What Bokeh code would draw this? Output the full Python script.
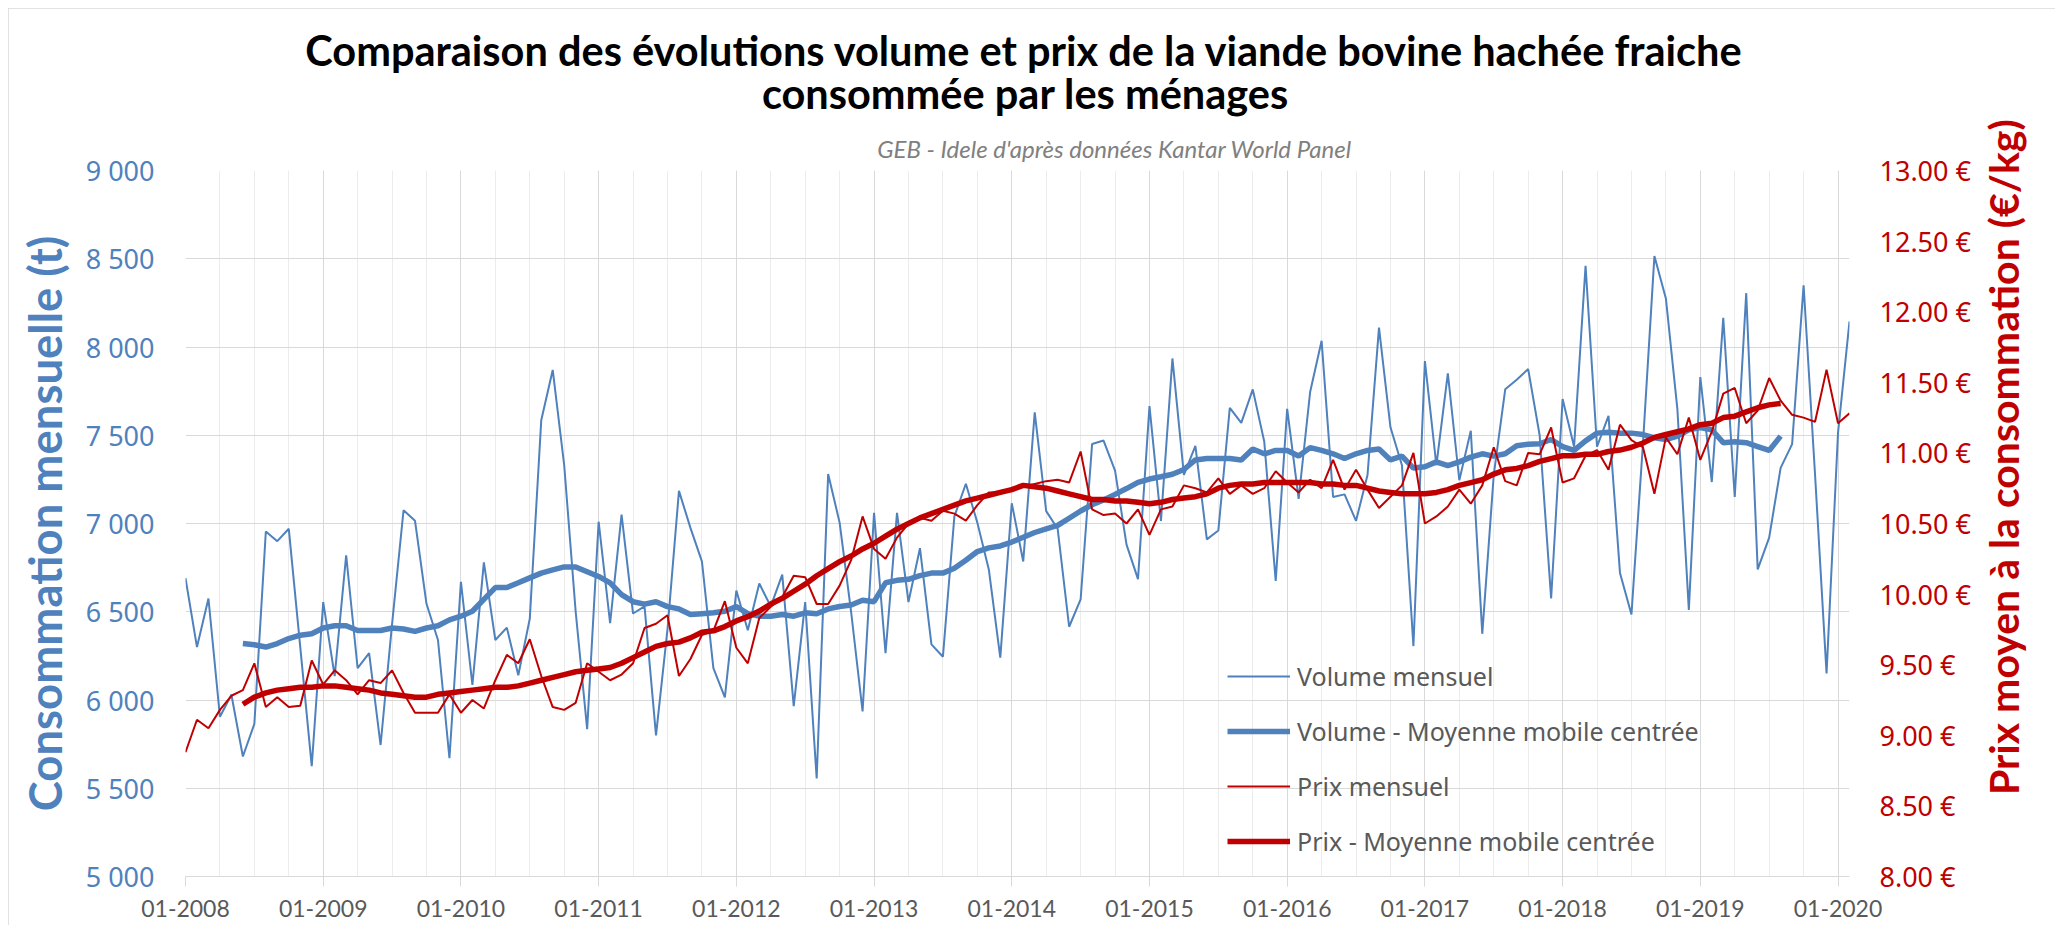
import math
from bokeh.plotting import figure
from bokeh.models import Range1d, LinearAxis, FixedTicker, Legend, LegendItem
from bokeh.embed import file_html
from bokeh.resources import INLINE

# ---------------- data (monthly, Jan 2008 -> Feb 2020) ----------------
volume_mensuel = [
    6690, 6300, 6575, 5905, 6030, 5680, 5865, 6955, 6900, 6970, 6300, 5625,
    6555, 6135, 6820, 6180, 6265, 5745, 6430, 7075, 7015, 6545, 6340, 5670,
    6670, 6085, 6780, 6340, 6410, 6140, 6460, 7585, 7870, 7330, 6500, 5835,
    7010, 6435, 7050, 6490, 6530, 5800, 6400, 7185, 6975, 6785, 6180, 6015,
    6620, 6395, 6660, 6530, 6710, 5965, 6555, 5555, 7280, 7005, 6500, 5935,
    7060, 6265, 7060, 6555, 6860, 6315, 6245, 7040, 7225, 7005, 6740, 6240,
    7115, 6785, 7630, 7070, 6970, 6415, 6570, 7450, 7470, 7300, 6880, 6685,
    7665, 7015, 7935, 7275, 7440, 6910, 6960, 7655, 7570, 7760, 7465, 6675,
    7650, 7140, 7745, 8035, 7150, 7165, 7015, 7275, 8110, 7545, 7330, 6305,
    7920, 7330, 7850, 7245, 7525, 6375, 7275, 7760, 7815, 7875, 7500, 6575,
    7705, 7435, 8460, 7435, 7610, 6720, 6485, 7450, 8515, 8275, 7650, 6510,
    7830, 7235, 8165, 7150, 8305, 6740, 6920, 7315, 7450, 8350, 7275, 6150,
    7515, 8145,
]

# centred moving averages, available from month index 5 to 139
mm_debut = 5
volume_moyenne_mobile = [
    6320, 6313, 6300, 6320, 6348, 6367, 6375,
    6408, 6421, 6421, 6394, 6394, 6394, 6408, 6402, 6389, 6408, 6421, 6454,
    6475, 6503, 6570, 6637, 6637, 6664, 6692, 6719, 6737, 6754, 6754, 6727,
    6700, 6664, 6597, 6557, 6543, 6557, 6529, 6516, 6484, 6489, 6494, 6503,
    6530, 6489, 6475, 6475, 6484, 6475, 6494, 6489, 6516, 6530, 6538, 6565,
    6557, 6664, 6678, 6684, 6705, 6719, 6719, 6746, 6792, 6841, 6862, 6873,
    6895, 6922, 6949, 6970, 6989, 7030, 7071, 7106, 7133, 7165, 7198, 7233,
    7252, 7265, 7279, 7306, 7360, 7368, 7368, 7368, 7360, 7422, 7395, 7414,
    7414, 7382, 7430, 7414, 7395, 7368, 7395, 7414, 7422, 7360, 7382, 7314,
    7322, 7349, 7328, 7349, 7376, 7395, 7382, 7395, 7441, 7449, 7452, 7476,
    7436, 7414, 7468, 7512, 7517, 7512, 7512, 7504, 7485, 7476, 7495, 7531,
    7544, 7531, 7458, 7463, 7458, 7436, 7414, 7495,
]

prix_mensuel = [
    8.88, 9.11, 9.05, 9.18, 9.28, 9.32, 9.51, 9.20, 9.27, 9.20, 9.21, 9.53,
    9.36, 9.46, 9.39, 9.29, 9.39, 9.37, 9.46, 9.30, 9.16, 9.16, 9.16, 9.29,
    9.16, 9.25, 9.19, 9.39, 9.57, 9.51, 9.68, 9.42, 9.20, 9.18, 9.23, 9.51,
    9.45, 9.39, 9.43, 9.51, 9.76, 9.79, 9.85, 9.42, 9.54, 9.71, 9.74, 9.95,
    9.62, 9.51, 9.83, 9.91, 9.98, 10.13, 10.12, 9.93, 9.93, 10.06, 10.24, 10.55,
    10.32, 10.25, 10.40, 10.50, 10.54, 10.52, 10.59, 10.57, 10.52, 10.63, 10.72, 10.72,
    10.75, 10.76, 10.78, 10.80, 10.81, 10.79, 11.01, 10.60, 10.56, 10.57, 10.50, 10.60,
    10.42, 10.60, 10.62, 10.77, 10.75, 10.72, 10.82, 10.71, 10.77, 10.71, 10.75, 10.87,
    10.79, 10.72, 10.81, 10.75, 10.95, 10.74, 10.88, 10.74, 10.61, 10.69, 10.77, 11.00,
    10.50, 10.55, 10.62, 10.74, 10.64, 10.77, 11.04, 10.80, 10.77, 11.00, 10.99, 11.18,
    10.79, 10.82, 10.98, 11.02, 10.88, 11.20, 11.09, 11.04, 10.71, 11.11, 10.99, 11.25,
    10.95, 11.15, 11.42, 11.46, 11.21, 11.30, 11.53, 11.37, 11.27, 11.25, 11.22, 11.59,
    11.21, 11.28,
]

prix_moyenne_mobile = [
    9.22, 9.27, 9.30, 9.32, 9.33, 9.34, 9.34,
    9.35, 9.35, 9.34, 9.33, 9.32, 9.30, 9.29, 9.28, 9.27, 9.27, 9.29, 9.30,
    9.31, 9.32, 9.33, 9.34, 9.34, 9.35, 9.37, 9.39, 9.41, 9.43, 9.45, 9.46,
    9.47, 9.48, 9.51, 9.55, 9.59, 9.63, 9.65, 9.66, 9.69, 9.73, 9.74, 9.77,
    9.81, 9.84, 9.88, 9.93, 9.97, 10.02, 10.07, 10.13, 10.18, 10.23, 10.27, 10.32,
    10.36, 10.41, 10.46, 10.50, 10.54, 10.57, 10.60, 10.63, 10.66, 10.68, 10.70, 10.72,
    10.74, 10.77, 10.76, 10.75, 10.73, 10.71, 10.69, 10.67, 10.67, 10.66, 10.66, 10.65,
    10.64, 10.65, 10.67, 10.68, 10.69, 10.71, 10.75, 10.77, 10.78, 10.78, 10.79, 10.79,
    10.79, 10.79, 10.79, 10.78, 10.78, 10.77, 10.77, 10.75, 10.73, 10.72, 10.71, 10.71,
    10.71, 10.72, 10.74, 10.77, 10.79, 10.81, 10.85, 10.88, 10.89, 10.91, 10.94, 10.96,
    10.98, 10.98, 10.99, 10.99, 11.01, 11.02, 11.04, 11.07, 11.11, 11.13, 11.15, 11.17,
    11.20, 11.21, 11.25, 11.26, 11.29, 11.32, 11.34, 11.35,
]

x_tick_labels = ["01-2008", "01-2009", "01-2010", "01-2011", "01-2012", "01-2013",
                 "01-2014", "01-2015", "01-2016", "01-2017", "01-2018", "01-2019", "01-2020"]
volume_ticks = [5000, 5500, 6000, 6500, 7000, 7500, 8000, 8500, 9000]
volume_tick_labels = ["5 000", "5 500", "6 000", "6 500", "7 000", "7 500", "8 000", "8 500", "9 000"]
prix_ticks = [8.0, 8.5, 9.0, 9.5, 10.0, 10.5, 11.0, 11.5, 12.0, 12.5, 13.0]
prix_tick_labels = ["8.00 €", "8.50 €", "9.00 €", "9.50 €", "10.00 €", "10.50 €",
                    "11.00 €", "11.50 €", "12.00 €", "12.50 €", "13.00 €"]

titre_1 = "Comparaison des évolutions volume et prix de la viande bovine hachée fraiche"
titre_2 = "consommée par les ménages"
sous_titre = "GEB - Idele d'après données Kantar World Panel"
titre_gauche = "Consommation mensuelle (t)"
titre_droite = "Prix moyen à la consommation (€/kg)"

# ---------------- derived x positions ----------------
mois = list(range(len(volume_mensuel)))
mois_mm = list(range(mm_debut, mm_debut + len(volume_moyenne_mobile)))
n_mois = len(volume_mensuel) - 1
year_ticks = list(range(0, 12 * len(x_tick_labels), 12))
quarter_ticks = list(range(0, n_mois + 1, 3))

BLUE = "#4F81BD"
RED = "#C00000"
GREY_TXT = "#595959"

W, H = 2047, 917
ML, MR, MT, MB = 177, 206, 162, 49
FW, FH = W - ML - MR, H - MT - MB

p = figure(width=W, height=H, output_backend="svg", toolbar_location=None, title=None,
           x_range=Range1d(0, n_mois), y_range=Range1d(5000, 9000),
           min_border_left=ML, min_border_right=MR, min_border_top=MT, min_border_bottom=MB,
           background_fill_color="white", border_fill_color="white",
           styles={"margin-left": "8px", "margin-top": "8px",
                   "box-shadow": "inset 1px 1px 0 #d9d9d9, inset 0 -1px 0 #d9d9d9"})
p.outline_line_color = None
p.extra_y_ranges = {"prix": Range1d(8, 13)}

# grids
p.xgrid.ticker = FixedTicker(ticks=year_ticks, minor_ticks=quarter_ticks)
p.xgrid.grid_line_color = "#d9d9d9"
p.xgrid.minor_grid_line_color = "#ececec"
p.ygrid.ticker = FixedTicker(ticks=volume_ticks)
p.ygrid.grid_line_color = "#d9d9d9"

# x axis
xa = p.xaxis[0]
xa.ticker = FixedTicker(ticks=year_ticks, minor_ticks=quarter_ticks)
xa.major_label_overrides = {t: l for t, l in zip(year_ticks, x_tick_labels)}
xa.axis_line_color = "#d9d9d9"
xa.major_tick_line_color = "#d9d9d9"
xa.major_tick_out = 10
xa.major_tick_in = 0
xa.minor_tick_line_color = None
xa.major_label_text_font = "Lato"
xa.major_label_text_font_size = "23px"
xa.major_label_text_color = GREY_TXT
xa.major_label_standoff = 13

# left axis
ya = p.yaxis[0]
ya.ticker = FixedTicker(ticks=volume_ticks)
ya.major_label_overrides = {t: l for t, l in zip(volume_ticks, volume_tick_labels)}
ya.axis_line_color = None
ya.major_tick_line_color = None
ya.minor_tick_line_color = None
ya.major_label_text_font = "Noto Sans"
ya.major_label_text_font_size = "27px"
ya.major_label_text_color = BLUE
ya.major_label_standoff = 25
ya.axis_label = titre_gauche
ya.axis_label_text_font = "Lato"
ya.axis_label_text_font_style = "bold"
ya.axis_label_text_font_size = "45.5px"
ya.axis_label_text_color = BLUE
ya.axis_label_standoff = 11

# right axis
ra = LinearAxis(y_range_name="prix", ticker=FixedTicker(ticks=prix_ticks))
ra.major_label_overrides = {t: l for t, l in zip(prix_ticks, prix_tick_labels)}
ra.axis_line_color = None
ra.major_tick_line_color = None
ra.minor_tick_line_color = None
ra.major_label_text_font = "Noto Sans"
ra.major_label_text_font_size = "27px"
ra.major_label_text_color = RED
ra.major_label_standoff = 24
p.add_layout(ra, "right")


# text-only axes used to place titles outside the plot frame
def text_axis(side, tick, text, size, color, style, standoff, y_range_name=None, orientation=None):
    kw = {"y_range_name": y_range_name} if y_range_name else {}
    ax = LinearAxis(ticker=FixedTicker(ticks=[tick]), **kw)
    ax.major_label_overrides = {tick: text}
    ax.axis_line_color = None
    ax.major_tick_line_color = None
    ax.minor_tick_line_color = None
    ax.major_tick_out = 0
    ax.major_tick_in = 0
    ax.major_label_text_font = "Lato"
    ax.major_label_text_font_size = size
    ax.major_label_text_font_style = style
    ax.major_label_text_color = color
    ax.major_label_standoff = standoff
    if orientation is not None:
        ax.major_label_orientation = orientation
    p.add_layout(ax, side)


def mx(px):  # frame pixel -> month value
    return round(px / FW * n_mois, 3)


def py_prix(px):  # frame pixel above bottom -> price value
    return round(8 + px / FH * 5, 3)


text_axis("above", mx(929), sous_titre, "24px", "#808080", "italic", 8)
text_axis("above", mx(840), titre_2, "41.5px", "#000000", "bold", 13)
text_axis("above", mx(839), titre_1, "41.5px", "#000000", "bold", -10)
text_axis("right", py_prix(303), titre_droite, "41px", RED, "bold", 30,
          y_range_name="prix", orientation=math.pi / 2)

# series
r1 = p.line(mois, volume_mensuel, line_color=BLUE, line_width=2)
r2 = p.line(mois_mm, volume_moyenne_mobile, line_color=BLUE, line_width=5.5)
r3 = p.line(mois, prix_mensuel, line_color=RED, line_width=2, y_range_name="prix")
r4 = p.line(mois_mm, prix_moyenne_mobile, line_color=RED, line_width=5.5, y_range_name="prix")

legend = Legend(items=[
    LegendItem(label="Volume mensuel", renderers=[r1]),
    LegendItem(label="Volume - Moyenne mobile centrée", renderers=[r2]),
    LegendItem(label="Prix mensuel", renderers=[r3]),
    LegendItem(label="Prix - Moyenne mobile centrée", renderers=[r4]),
], location=(1042, 18), glyph_width=63, glyph_height=34, label_height=34,
    label_standoff=7, spacing=21, padding=0, margin=0,
    background_fill_alpha=0, border_line_alpha=0,
    label_text_font="Noto Sans", label_text_font_size="25px", label_text_color=GREY_TXT)
p.add_layout(legend)

open("out.html", "w").write(file_html(p, INLINE))
